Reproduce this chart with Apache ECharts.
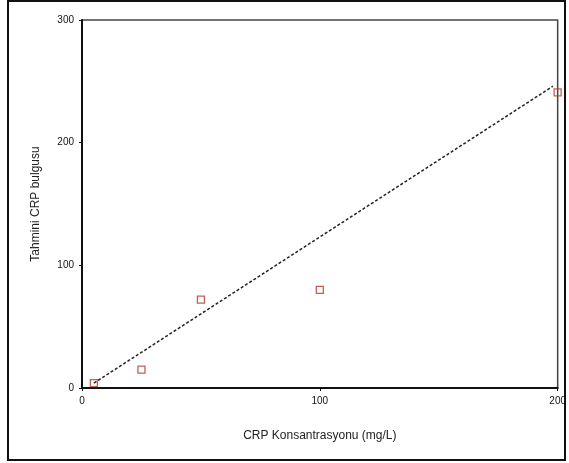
<!DOCTYPE html>
<html><head><meta charset="utf-8">
<script src="https://cdn.jsdelivr.net/npm/echarts@6/dist/echarts.min.js"></script>
<style>html,body{margin:0;padding:0;background:#fff}#c{width:569px;height:463px}</style>
</head><body><div id="c"></div>
<script>
const xTitle = 'CRP Konsantrasyonu (mg/L)';
const yTitle = 'Tahmini CRP bulgusu';
const concentration = [5, 25, 50, 100, 200];
const measured = [4, 15, 72, 80, 241];
const fitX = [5, 198];
const fitY = [4, 246];
const xTicks = [0, 100, 200];
const yTicks = [0, 100, 200, 300];

const chart = echarts.init(document.getElementById('c'), null, {renderer:'canvas'});
chart.setOption({
  animation:false,
  backgroundColor:'#fff',
  graphic:[{type:'rect', shape:{x:8, y:1, width:557, height:459}, style:{fill:'none', stroke:'#111', lineWidth:2}, z:100}],
  grid:{left:82, right:11, top:20, bottom:75, show:true, borderColor:'#444', borderWidth:1.5},
  xAxis:{type:'value', min:xTicks[0], max:xTicks[xTicks.length-1], interval:100,
    name:xTitle, nameLocation:'middle', nameGap:42,
    nameTextStyle:{fontFamily:'Liberation Sans', fontSize:12, color:'#222'},
    axisLine:{lineStyle:{color:'#111', width:2}},
    axisTick:{show:true, length:3, lineStyle:{color:'#111'}},
    axisLabel:{fontFamily:'Liberation Sans', fontSize:10, color:'#111', margin:8},
    splitLine:{show:false}},
  yAxis:{type:'value', min:yTicks[0], max:yTicks[yTicks.length-1], interval:100,
    name:yTitle, nameLocation:'middle', nameGap:40,
    nameTextStyle:{fontFamily:'Liberation Sans', fontSize:12, color:'#222'},
    axisLine:{lineStyle:{color:'#111', width:2}},
    axisTick:{show:true, length:3, lineStyle:{color:'#111'}},
    axisLabel:{fontFamily:'Liberation Sans', fontSize:10, color:'#111', margin:8},
    splitLine:{show:false}},
  series:[
    {type:'line', data:fitX.map((x,i)=>[x,fitY[i]]), symbol:'none',
      lineStyle:{color:'#222', width:1.5, type:[3,2]}, z:2},
    {type:'scatter', data:concentration.map((x,i)=>[x,measured[i]]), symbol:'rect', symbolSize:7,
      itemStyle:{color:'rgba(255,255,255,0)', borderColor:'#b03a2e', borderWidth:1.3}, z:3}
  ]
});
</script></body></html>
